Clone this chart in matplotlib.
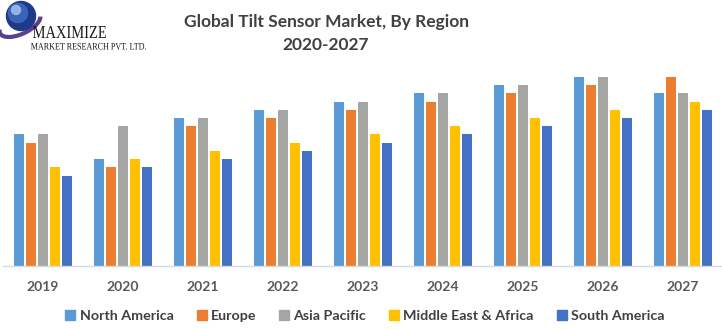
import matplotlib
matplotlib.use("Agg")
import matplotlib.pyplot as plt
import numpy as np
from matplotlib.patches import Circle, Arc, Rectangle, PathPatch
from matplotlib.textpath import TextPath
from matplotlib.font_manager import FontProperties
from matplotlib.transforms import Affine2D

years = ["2019", "2020", "2021", "2022", "2023", "2024", "2025", "2026", "2027"]
regions = ["North America", "Europe", "Asia Pacific", "Middle East & Africa", "South America"]
north_america = [16, 13, 18, 19, 20, 21, 22, 23, 21]
europe = [15, 12, 17, 18, 19, 20, 21, 22, 23]
asia_pacific = [16, 17, 18, 19, 20, 21, 22, 23, 21]
middle_east_africa = [12, 13, 14, 15, 16, 17, 18, 19, 20]
south_america = [11, 12, 13, 14, 15, 16, 17, 18, 19]
colors = ["#5B9BD5", "#ED7D31", "#A5A5A5", "#FFC000", "#4472C4"]

series = [north_america, europe, asia_pacific, middle_east_africa, south_america]

W, H = 722, 330
fig = plt.figure(figsize=(W / 100, H / 100), dpi=100)
fig.patch.set_facecolor("white")

# main plot area: baseline at y=266 px, spanning nearly full width
ax_left, ax_right = 3, 723
ax_bottom, ax_top = 266, 60.5
ax = fig.add_axes([ax_left / W, (H - ax_bottom) / H,
                   (ax_right - ax_left) / W, (ax_bottom - ax_top) / H])
x = np.arange(len(years))
pitch, width = 0.15, 0.125
for i, (vals, col) in enumerate(zip(series, colors)):
    ax.bar(x + (i - 2) * pitch, vals, width=width, color=col, label=regions[i], zorder=2)

ax.set_xlim(-0.5, len(years) - 0.5)
ax.set_ylim(0, 25)
for s in ["top", "right", "left"]:
    ax.spines[s].set_visible(False)
ax.spines["bottom"].set_color("#D9D9D9")
ax.spines["bottom"].set_linewidth(1.0)
ax.set_yticks([])
ax.set_xticks(x)
ax.set_xticklabels(years, fontfamily="Lato", fontweight="bold", fontsize=10, color="#595959")
ax.tick_params(axis="x", length=0, pad=11)

# title
fig.text(326 / W, 1 - 22 / H, "Global Tilt Sensor Market, By Region", ha="center", va="center",
         fontfamily="Lato", fontweight="bold", fontsize=12.5, color="#404040")
fig.text(326 / W, 1 - 45 / H, "2020-2027", ha="center", va="center",
         fontfamily="Lato", fontweight="bold", fontsize=12.5, color="#404040")

# legend
handles = [Rectangle((0, 0), 1, 1, color=c) for c in colors]
fig.legend(handles, regions, loc="center", bbox_to_anchor=(365 / W, 1 - 316 / H), ncol=5,
           frameon=False, handlelength=0.7, handleheight=0.7, handletextpad=0.3,
           columnspacing=1.6, prop={"family": "Lato", "weight": "bold", "size": 10.3},
           labelcolor="#404040")

# company logo, drawn in pixel units with y pointing up
lax = fig.add_axes([0, 1 - 60 / H, 180 / W, 60 / H])
lax.set_xlim(0, 180)
lax.set_ylim(0, 60)
lax.axis("off")


def fitted_text(s, x0, baseline, width, cap, family, weight="normal"):
    tp = TextPath((0, 0), s, size=1, prop=FontProperties(family=family, weight=weight))
    ext = tp.get_extents()
    capref = TextPath((0, 0), "M", size=1, prop=FontProperties(family=family, weight=weight)).get_extents().height
    tr = Affine2D().translate(-ext.x0, 0).scale(width / ext.width, cap / capref).translate(x0, baseline)
    lax.add_patch(PathPatch(tr.transform_path(tp), color="#1A1A1A", lw=0))


lax.add_patch(Arc((20, 36), 44, 20, angle=25, theta1=170, theta2=355, color="#5B3F8C", lw=3))
lax.add_patch(Circle((21, 44), 14.5, color="#1E3A8A"))
lax.add_patch(Circle((18, 47), 9.5, color="#3F6CC0", alpha=0.85))
lax.add_patch(Circle((16, 50), 4.5, color="#9DBBEA", alpha=0.9))
fitted_text("MAXIMIZE", 33, 60 - 38, 73, 12, "Liberation Serif")
fitted_text("MARKET RESEARCH PVT. LTD.", 31, 60 - 49.5, 115, 6.5, "Liberation Serif")

fig.savefig("out.png", dpi=100, facecolor="white")
